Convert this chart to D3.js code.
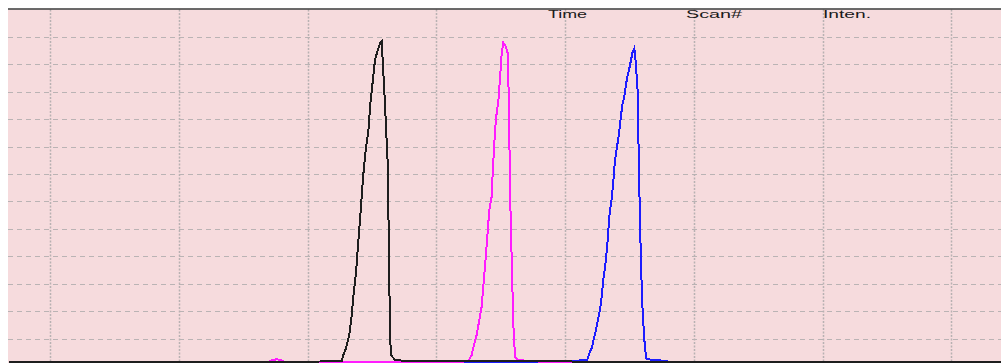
<!doctype html>
<html>
  <head>
    <meta charset="utf-8"/>
    <title>Chromatogram</title>
    <style>
      body, html {
        padding: 0;
        margin: 0;
        background: white;
        overflow: hidden;
      }
      svg { display: block; }
      .header {
        font-family: "Liberation Sans", Arial, sans-serif;
        font-size: 11px;
        fill: #1a1a1a;
      }
    </style>
    <script src="https://d3js.org/d3.v7.min.js"></script>
  </head>
  <body>
    <svg width="1001" height="363"></svg>
    <script>
      // grid positions (time in min, intensity)
      var gridTimes = [2.50, 2.75, 3.00, 3.25, 3.50, 3.75, 4.00, 4.25];
      var gridIntens = [100000, 200000, 300000, 400000, 500000, 600000,
                        700000, 800000, 900000, 1000000, 1100000, 1200000];
      var headerLabels = ["Time", "Scan#", "Inten."];

      // traces: [time, intensity]
      var blackTrace = [
        [2.42, 16000], [3.00, 16000], [3.0661, 17140], [3.0692, 40120], [3.0744, 64550],
        [3.0808, 113060], [3.0855, 186000], [3.0886, 252740], [3.0938, 338080],
        [3.0983, 453320], [3.1030, 568930], [3.1080, 696580], [3.1127, 787750],
        [3.1177, 854490], [3.1224, 970100], [3.1274, 1055080], [3.1307, 1115980],
        [3.1352, 1146250], [3.1404, 1176870], [3.1437, 1182720], [3.1457, 1115980],
        [3.1502, 951870], [3.1554, 739250], [3.1579, 416850], [3.1598, 119260],
        [3.1618, 40120], [3.1696, 21880], [3.1923, 18240], [3.25, 16500], [4.40, 16000]
      ];
      var pinkTrace = [
        [2.42, 16000], [2.678, 16000], [2.680, 12000], [2.727, 12000], [2.729, 16000],
        [2.847, 16000], [2.849, 12000], [2.894, 12000], [2.896, 16000], [2.925, 16000],
        [2.932, 22000], [2.940, 24400], [2.947, 22000], [2.954, 16000], [3.300, 16000],
        [3.3119, 17140], [3.3185, 40120], [3.3230, 76590], [3.3282, 113060],
        [3.3333, 167760], [3.3379, 216270], [3.3410, 289210], [3.3457, 392780],
        [3.3496, 489790], [3.3527, 568930], [3.3573, 617440], [3.3593, 702780],
        [3.3624, 812190], [3.3657, 903360], [3.3702, 963900], [3.3735, 1049240],
        [3.3768, 1140420], [3.3799, 1179070], [3.3851, 1164490], [3.3884, 1140420],
        [3.3910, 945670], [3.3929, 641870], [3.3962, 392780], [3.3993, 155730],
        [3.4026, 33920], [3.4090, 21880], [3.4317, 18240], [3.45, 16000],
        [3.915, 16000], [3.917, 12000], [3.931, 12000], [3.933, 16000],
        [4.232, 16000], [4.234, 12000], [4.280, 12000], [4.282, 16000], [4.40, 16000]
      ];
      var blueTrace = [
        [2.42, 16000], [2.482, 16000], [2.484, 12000], [2.505, 12000], [2.507, 16000],
        [2.634, 16000], [2.636, 12000], [2.655, 12000], [2.657, 16000],
        [2.977, 16000], [2.979, 12000], [3.030, 12000], [3.032, 16000],
        [3.500, 16000], [3.5224, 19330], [3.5430, 21880], [3.5469, 46320],
        [3.5515, 64550], [3.5560, 101020], [3.5612, 143330], [3.5663, 192200],
        [3.5696, 228670], [3.5741, 313640], [3.5787, 380380], [3.5826, 459520],
        [3.5857, 544500], [3.5904, 611600], [3.5935, 672140], [3.5968, 751280],
        [3.6013, 805990], [3.6046, 848660], [3.6079, 903360], [3.6110, 951870],
        [3.6143, 976300], [3.6176, 1018610], [3.6207, 1055080], [3.6240, 1079510],
        [3.6273, 1109780], [3.6312, 1146250], [3.6343, 1158650], [3.6370, 1109780],
        [3.6409, 1000370], [3.6434, 702780], [3.6473, 368350], [3.6506, 192200],
        [3.6550, 64550], [3.6583, 24430], [3.6809, 21880], [3.70, 16000],
        [3.740, 16000], [3.742, 12000], [3.762, 12000], [3.764, 16000],
        [3.793, 16000], [3.795, 12000], [3.840, 12000], [3.842, 16000],
        [3.882, 16000], [3.884, 12000], [3.911, 12000], [3.913, 16000],
        [4.142, 16000], [4.144, 12000], [4.160, 12000], [4.162, 16000],
        [4.286, 16000], [4.288, 12000], [4.40, 12000]
      ];

      var svg = d3.select("svg");

      var x = d3.scaleLinear().domain([2.42, 4.36]).range([9, 1008]);
      var y = d3.scaleLinear().domain([0, 1300000]).range([366, 9.5]);

      // plot background
      svg.append("rect")
        .attr("x", 8)
        .attr("y", y(1300000))
        .attr("width", 1001 - 8)
        .attr("height", y(0) - y(1300000))
        .attr("fill", "#f6dbdd");

      // horizontal dashed grid
      svg.append("g")
        .selectAll("line")
        .data(gridIntens).enter()
        .append("line")
          .attr("x1", 8)
          .attr("x2", 1001)
          .attr("y1", function(d) { return Math.round(y(d)) + 0.5; })
          .attr("y2", function(d) { return Math.round(y(d)) + 0.5; })
          .attr("stroke", "#bab3b4")
          .attr("stroke-width", 1)
          .attr("stroke-dasharray", "5,4")
          .attr("shape-rendering", "crispEdges");

      // vertical dotted grid
      svg.append("g")
        .selectAll("line")
        .data(gridTimes).enter()
        .append("line")
          .attr("x1", function(d) { return Math.round(x(d)) + 0.5; })
          .attr("x2", function(d) { return Math.round(x(d)) + 0.5; })
          .attr("y1", y(1300000))
          .attr("y2", 366)
          .attr("stroke", "#b8b1b2")
          .attr("stroke-width", 1.5)
          .attr("stroke-dasharray", "2,1.5");

      // top border
      svg.append("line")
        .attr("x1", 8).attr("x2", 1001)
        .attr("y1", 9).attr("y2", 9)
        .attr("stroke", "#3a3a3a")
        .attr("stroke-width", 1.3);

      // header labels
      var headerX = [548, 686, 823];
      var headerW = [39, 56, 48];
      svg.selectAll(".header")
        .data(headerLabels).enter()
        .append("text")
          .attr("class", "header")
          .attr("x", function(d, i) { return headerX[i]; })
          .attr("y", 18)
          .attr("textLength", function(d, i) { return headerW[i]; })
          .attr("lengthAdjust", "spacingAndGlyphs")
          .text(function(d) { return d; });

      var line = d3.line()
        .x(function(d) { return x(d[0]); })
        .y(function(d) { return y(d[1]); });

      var traces = [
        {data: blueTrace, color: "#1c1cff"},
        {data: pinkTrace, color: "#ff1cff"},
        {data: blackTrace, color: "#1e1e1e"}
      ];

      svg.append("g")
        .selectAll("path")
        .data(traces).enter()
        .append("path")
          .attr("d", function(d) { return line(d.data); })
          .attr("fill", "none")
          .attr("stroke", function(d) { return d.color; })
          .attr("stroke-width", 2)
          .attr("stroke-linejoin", "miter")
          .attr("shape-rendering", "crispEdges");
    </script>
  </body>
</html>
